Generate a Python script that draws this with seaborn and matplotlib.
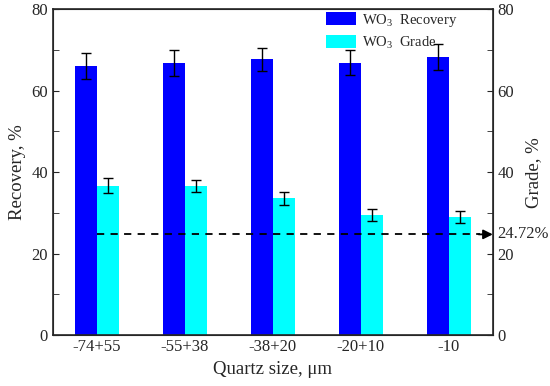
import numpy as np
import matplotlib
matplotlib.use("Agg")
import matplotlib.pyplot as plt
import seaborn as sb
import pandas as pd

sizes = ["-74+55", "-55+38", "-38+20", "-20+10", "-10"]
recovery = [66.1, 66.8, 67.7, 66.9, 68.3]
recovery_err = [3.2, 3.3, 2.9, 3.1, 3.2]
grade = [36.7, 36.6, 33.6, 29.5, 29.0]
grade_err = [1.8, 1.5, 1.6, 1.45, 1.5]
feed_grade = 24.72

sb.set_style("ticks")
plt.rcParams["font.family"] = ["Liberation Serif", "DejaVu Serif"]
plt.rcParams["mathtext.fontset"] = "custom"
plt.rcParams["mathtext.rm"] = "Liberation Serif"
plt.rcParams["xtick.direction"] = "in"
plt.rcParams["ytick.direction"] = "in"

lab_rec = "WO$_3$  Recovery"
lab_gr = "WO$_3$  Grade"
dataset = pd.DataFrame({
    "size": sizes * 2,
    "value": recovery + grade,
    "type": [lab_rec] * len(sizes) + [lab_gr] * len(sizes),
})

fig, ax = plt.subplots(figsize=(5.5, 3.86), dpi=100)
fig.subplots_adjust(left=0.096, right=0.896, top=0.976, bottom=0.132)

sb.barplot(data=dataset, x="size", y="value", hue="type", order=sizes,
           hue_order=[lab_rec, lab_gr], palette=["#0000ff", "#00ffff"],
           saturation=1, width=0.5, errorbar=None, edgecolor="none", ax=ax)

# error bars on top of each bar
for cont, err in zip(ax.containers, [recovery_err, grade_err]):
    xs = [b.get_x() + b.get_width() / 2 for b in cont]
    ys = [b.get_height() for b in cont]
    ax.errorbar(xs, ys, yerr=err, fmt="none", ecolor="black", elinewidth=1,
                capsize=3.5, capthick=1)

ax.set_xlim(-0.5, len(sizes) - 0.5)
ax.set_ylim(0, 80)
ax.set_yticks([0, 20, 40, 60, 80])
ax.set_yticks([10, 30, 50, 70], minor=True)
ax.tick_params(axis="y", which="both", length=4, labelsize=12)
ax.tick_params(axis="x", length=0, labelsize=12, pad=3)
ax.set_xlabel("Quartz size, μm", fontsize=13.5)
ax.set_ylabel("Recovery, %", fontsize=13.5)
for s in ax.spines.values():
    s.set_linewidth(1.2)

ax2 = ax.twinx()
ax2.set_ylim(0, 80)
ax2.set_yticks([0, 20, 40, 60, 80])
ax2.set_yticks([10, 30, 50, 70], minor=True)
ax2.tick_params(axis="y", which="both", length=4, labelsize=12, direction="in")
ax2.set_ylabel("Grade, %", fontsize=13.5, labelpad=8)

# feed grade line with arrow to right axis
ax2.plot([0, len(sizes) - 0.64], [feed_grade, feed_grade], color="black",
         ls=(0, (4, 3.5)), lw=1.3)
ax2.annotate("", xy=(len(sizes) - 0.5, feed_grade),
             xytext=(len(sizes) - 0.66, feed_grade),
             arrowprops=dict(arrowstyle="-|>", color="black", lw=1.3,
                             mutation_scale=14, shrinkA=0, shrinkB=0))
ax2.annotate(f"{feed_grade}%", xy=(1.0, feed_grade),
             xycoords=("axes fraction", "data"), xytext=(3, 0),
             textcoords="offset points", va="center", ha="left",
             fontsize=12, annotation_clip=False)

ax.legend(loc="upper left", bbox_to_anchor=(0.62, 0.993), frameon=False,
          fontsize=10.5, handlelength=2.1, handleheight=1.05, borderpad=0,
          borderaxespad=0, labelspacing=0.4, handletextpad=0.4)

plt.savefig("out.png", dpi=100)
